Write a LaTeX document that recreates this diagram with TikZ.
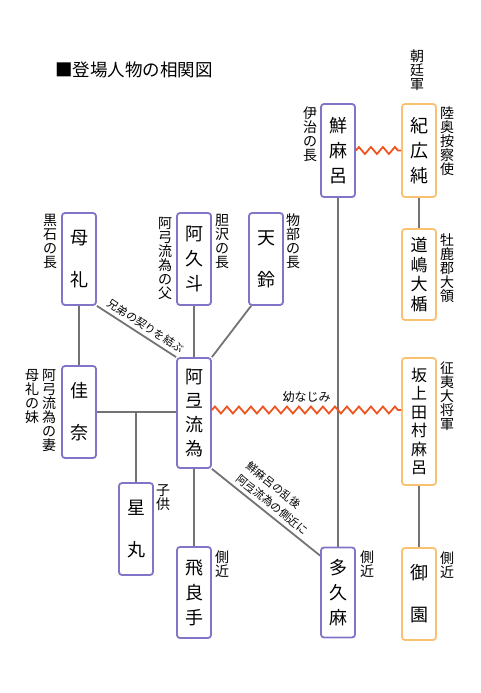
\documentclass[tikz,border=0pt]{standalone}
\usepackage{fontspec}
\setmainfont{Noto Sans CJK JP}
\usepackage{xcolor}
\usepackage{tikz}
\usetikzlibrary{decorations.pathmorphing,backgrounds}

\definecolor{boxpurple}{RGB}{130,116,198}
\definecolor{boxorange}{RGB}{248,194,112}
\definecolor{linegray}{RGB}{115,115,115}
\definecolor{zigred}{RGB}{240,84,30}

\begin{document}
\begin{tikzpicture}[x=1pt,y=-1pt,
	box/.style={draw, fill=white, line width=1.8pt, rounded corners=3pt, minimum width=34pt, inner sep=0pt, align=center, font=\fontsize{18}{20}\selectfont},
	pbox/.style={box, draw=boxpurple},
	obox/.style={box, draw=boxorange},
	conn/.style={draw=linegray, line width=1.8pt},
	zig/.style={draw=zigred, line width=1.8pt, decorate, decoration={zigzag, segment length=12pt, amplitude=3.5pt}},
	lbl/.style={anchor=north, inner sep=0pt, align=center, font=\fontsize{14}{14}\selectfont},
	onlbl/.style={inner sep=1pt, font=\fontsize{11}{13}\selectfont}]

\useasboundingbox (0,0) rectangle (480,693);

\node[anchor=west, inner sep=0pt, font=\fontsize{17.5}{18}\selectfont] (title) at (55,70) {■登場人物の相関図};

\node[pbox, minimum height=93pt] (sen) at (338,150.5) {鮮\\[5pt]麻\\[5pt]呂};
\node[obox, minimum height=93pt] (ki) at (419,150.5) {紀\\[5pt]広\\[5pt]純};
\node[obox, minimum height=91pt, font=\fontsize{17}{19.5}\selectfont] (michi) at (419,274.5) {道\\嶋\\大\\楯};

\node[pbox, minimum height=92pt] (more) at (79,259) {母\\[22pt]礼};
\node[pbox, minimum height=92pt] (aku) at (194,259) {阿\\[5pt]久\\[5pt]斗};
\node[pbox, minimum height=92pt] (ten) at (266,259) {天\\[22pt]鈴};

\node[pbox, minimum height=110pt] (ate) at (194,413) {阿\\[4pt]弖\\[4pt]流\\[4pt]為};
\node[pbox, minimum height=92pt] (kana) at (79,412) {佳\\[22pt]奈};
\node[pbox, minimum height=92pt] (hoshi) at (136,529) {星\\[22pt]丸};
\node[pbox, minimum height=91pt] (hira) at (194,592.5) {飛\\[5pt]良\\[5pt]手};
\node[pbox, minimum height=90pt] (taku) at (338,592.5) {多\\[5pt]久\\[5pt]麻};

\node[obox, minimum height=127pt, font=\fontsize{16}{18.5}\selectfont] (saka) at (419,421.5) {坂\\上\\田\\村\\麻\\呂};
\node[obox, minimum height=92pt] (miso) at (419,594) {御\\[22pt]園};

\node[lbl] (chotei) at (417,50) {朝\\廷\\軍};
\node[lbl] (iji) at (310,107) {伊\\治\\の\\長};
\node[lbl] (mutsu) at (447,107) {陸\\奥\\按\\察\\使};
\node[lbl] (kuroishi) at (50,214) {黒\\石\\の\\長};
\node[lbl] (chichi) at (165,217) {阿\\弓\\流\\為\\の\\父};
\node[lbl] (isawa) at (222,214) {胆\\沢\\の\\長};
\node[lbl] (mononobe) at (293,214) {物\\部\\の\\長};
\node[lbl] (oshika) at (447,234) {牡\\鹿\\郡\\大\\領};
\node[lbl] (seii) at (447,362) {征\\夷\\大\\将\\軍};
\node[lbl] (tsuma) at (49,369) {阿\\弓\\流\\為\\の\\妻};
\node[lbl] (imo) at (32,369) {母\\礼\\の\\妹};
\node[lbl] (kodomo) at (163,484) {子\\供};
\node[lbl] (sokkinA) at (222,551) {側\\近};
\node[lbl] (sokkinB) at (367,551) {側\\近};
\node[lbl] (sokkinC) at (447,552) {側\\近};

\begin{scope}[on background layer]
\draw[conn] (sen.south) -- (taku.north);
\draw[conn] (ki.south) -- (michi.north);
\draw[conn] (saka.south) -- (miso.north);
\draw[conn] (more.south) -- (kana.north);
\draw[conn] (aku.south) -- (ate.north);
\draw[conn] ([xshift=3pt]ten.south west) -- (ate.north east);
\draw[conn] (more.south east) -- node[onlbl, sloped, above=3pt, pos=0.55] (kyodai) {兄弟の契りを結ぶ} (ate.north west);
\draw[conn] (ate.south east) -- node[onlbl, sloped, above=3pt, align=left, pos=0.5] (rango) {鮮麻呂の乱後\\[3pt]阿弖流為の側近に} ([yshift=-9pt]taku.north west);
\draw[conn] (kana.east) -- (kana.east -| ate.west);
\draw[conn] (hoshi.north) -- (hoshi.north |- kana.east);
\draw[conn] (ate.south) -- (hira.north);
\end{scope}

\draw[zig] (sen.east) -- (sen.east -| ki.west);
\draw[zig] ([yshift=3pt]ate.east) -- node[onlbl, above=6pt, font=\fontsize{12}{13}\selectfont] (osana) {幼なじみ} ([yshift=3pt]ate.east -| saka.west);

\end{tikzpicture}
\end{document}
